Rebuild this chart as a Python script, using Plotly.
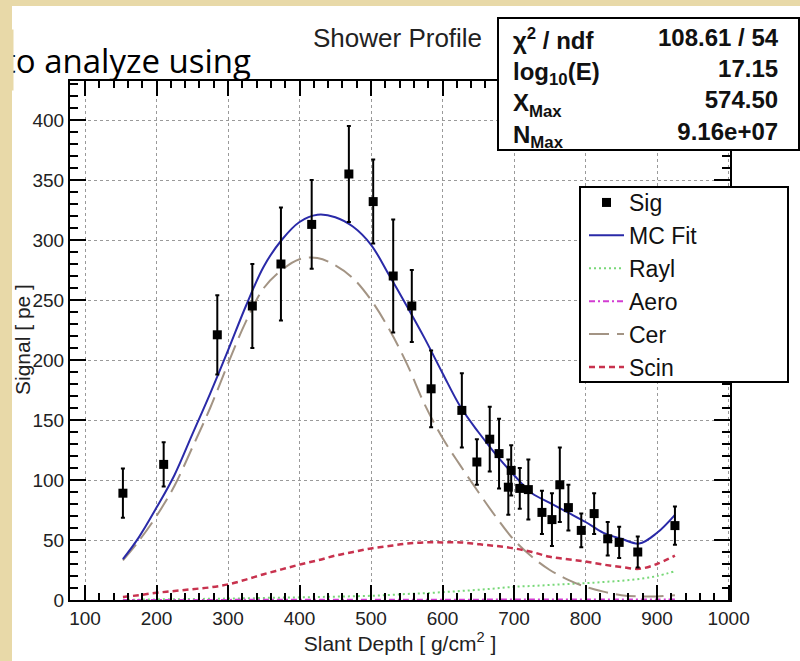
import plotly.graph_objects as go

# ---------------- data ----------------
sig_depth = [153, 210, 285, 334, 374, 417, 469, 503, 531, 557, 584, 627, 648, 666, 679,
             692, 696, 708, 720, 739, 753, 764, 776, 794, 812, 831, 847, 873, 925]
sig_val = [89, 113, 221, 245, 280, 313, 355, 332, 270, 245, 176, 158, 115, 134, 122,
           94, 108, 93, 92, 73, 67, 96, 77, 58, 72, 51, 48, 40, 62]
sig_err = [20.5, 18.5, 33, 35, 47, 37, 40, 35, 47, 30, 32, 31, 19, 27, 29,
           23, 21, 17, 25, 18, 22, 31, 19, 14, 17, 14, 13, 13, 16]

depth = [153, 175, 200, 225, 250, 275, 300, 325, 350, 375, 400, 425, 450, 475, 500, 525,
         550, 575, 600, 625, 650, 675, 700, 725, 750, 775, 800, 825, 850, 875, 900, 925]
mc_fit = [34, 52, 77, 104, 138, 172, 208, 245, 278, 300, 315, 321, 319, 311, 296, 271,
          245, 218, 189, 161, 140, 121, 104, 89, 81, 73, 65, 56, 51, 47, 56, 71]
cer = [33, 49, 70, 95, 127, 160, 197, 232, 260, 275, 284, 285, 279, 268, 250, 226,
       197, 163, 135, 112, 90, 69, 50, 36, 25, 17, 11, 7, 4, 3, 3, 4]
scin = [2.5, 4, 6, 7.5, 9, 10.5, 13, 17, 21.5, 25.5, 29.5, 33, 37, 40, 43, 45,
        47, 48, 48, 48, 46.5, 45, 43, 40, 36, 34, 32, 29.5, 27.5, 26, 30, 37]
rayl = [0.2, 0.3, 0.5, 0.6, 0.8, 1.0, 1.2, 1.4, 1.7, 2.0, 2.2, 2.5, 2.8, 3.1, 3.5, 4.2,
        5, 5.7, 6.5, 7.5, 8.5, 9.7, 11, 11.7, 12.5, 13.3, 14, 15, 16, 17.5, 20, 24]
aero = [0.05, 0.05, 0.05, 0.1, 0.1, 0.1, 0.1, 0.15, 0.15, 0.15, 0.2, 0.2, 0.2, 0.2, 0.25, 0.25,
        0.25, 0.3, 0.3, 0.3, 0.3, 0.35, 0.35, 0.35, 0.4, 0.4, 0.4, 0.4, 0.45, 0.45, 0.5, 0.5]

stat_labels = ["χ<sup>2</sup> / ndf", "log<sub>10</sub>(E)", "X<sub>Max</sub>", "N<sub>Max</sub>"]
stat_values = ["108.61 / 54", "17.15", "574.50", "9.16e+07"]

# ---------------- layout helpers ----------------
W, H = 800, 661
L, R, T, B = 70, 70, 81, 61
PW, PH = W - L - R, H - T - B


def px(x):
    return (x - L) / PW


def py(y):
    return (H - B - y) / PH


ROOT_FONT = "Liberation Sans, Arial, sans-serif"
TAN = "#E8D9A8"

fig = go.Figure()

fig.add_trace(go.Scatter(x=depth, y=rayl, mode="lines", name="Rayl", legendrank=3,
                         line=dict(color="#78d878", width=2, dash="2px,3px", shape="spline")))
fig.add_trace(go.Scatter(x=depth, y=aero, mode="lines", name="Aero", legendrank=4,
                         line=dict(color="#d23cd2", width=2, dash="6px,3px,2px,3px", shape="spline")))
fig.add_trace(go.Scatter(x=depth, y=cer, mode="lines", name="Cer", legendrank=5,
                         line=dict(color="#a39484", width=2, dash="20px,8px", shape="spline")))
fig.add_trace(go.Scatter(x=depth, y=scin, mode="lines", name="Scin", legendrank=6,
                         line=dict(color="#c8324e", width=2.5, dash="6px,4px", shape="spline")))
fig.add_trace(go.Scatter(x=depth, y=mc_fit, mode="lines", name="MC Fit", legendrank=2,
                         line=dict(color="#2a2aa8", width=2, shape="spline")))
fig.add_trace(go.Scatter(x=sig_depth, y=sig_val, mode="markers", name="Sig", legendrank=1,
                         marker=dict(symbol="square", size=9, color="black"),
                         error_y=dict(type="data", array=sig_err, color="black",
                                      thickness=2, width=2)))

axis_common = dict(showline=True, linecolor="black", linewidth=2, mirror="allticks",
                   ticks="inside", tickcolor="black", tickwidth=2,
                   showgrid=True, gridcolor="#9a9a9a", gridwidth=1, griddash="dot",
                   zeroline=False,
                   tickfont=dict(family=ROOT_FONT, size=19, color="#222"))

fig.update_xaxes(range=[79, 1002], tick0=0, dtick=100, ticklen=15,
                 minor=dict(dtick=20, ticks="inside", ticklen=7, tickcolor="black",
                            tickwidth=1.5, showgrid=False),
                 title=dict(text="Slant Depth [ g/cm<sup>2</sup> ]", standoff=6,
                            font=dict(family=ROOT_FONT, size=21, color="#222")),
                 **axis_common)
fig.update_yaxes(range=[0, 432.5], tick0=0, dtick=50, ticklen=16,
                 minor=dict(dtick=10, ticks="inside", ticklen=8, tickcolor="black",
                            tickwidth=1.5, showgrid=False),
                 **axis_common)

shapes = [
    # slide background strips (left and top)
    dict(type="rect", xref="paper", yref="paper", x0=px(0), x1=px(12), y0=py(H), y1=py(0),
         fillcolor=TAN, line=dict(width=0), layer="below"),
    dict(type="rect", xref="paper", yref="paper", x0=px(0), x1=px(W), y0=py(6), y1=py(0),
         fillcolor=TAN, line=dict(width=0), layer="below"),
    # stats box
    dict(type="rect", xref="paper", yref="paper", x0=px(498), x1=px(799), y0=py(150), y1=py(18),
         fillcolor="white", line=dict(color="black", width=2), layer="above"),
    # legend box
    dict(type="rect", xref="paper", yref="paper", x0=px(580), x1=px(788), y0=py(382), y1=py(187),
         fillcolor="white", line=dict(color="black", width=2), layer="above"),
]

annotations = [
    dict(text="to analyze using", x=px(2), y=py(60), xref="paper", yref="paper",
         xanchor="left", yanchor="middle", showarrow=False,
         font=dict(family="Open Sans", size=33, color="black")),
    dict(text=" ", x=px(0), y=py(60), xref="paper", yref="paper", xanchor="left",
         yanchor="middle", showarrow=False, width=12, height=60, bgcolor=TAN, borderpad=0,
         font=dict(size=10)),
    dict(text="Shower Profile", x=px(397), y=py(38), xref="paper", yref="paper",
         xanchor="center", yanchor="middle", showarrow=False,
         font=dict(family=ROOT_FONT, size=26, color="#222")),
    dict(text="<br>".join(stat_labels), x=px(511), y=py(22), xref="paper", yref="paper",
         xanchor="left", yanchor="top", align="left", showarrow=False,
         font=dict(family=ROOT_FONT, size=24, color="#111", weight="bold")),
    dict(text="<br>".join(stat_values), x=px(781), y=py(22), xref="paper", yref="paper",
         xanchor="right", yanchor="top", align="right", showarrow=False,
         font=dict(family=ROOT_FONT, size=24, color="#111", weight="bold")),
    dict(text="Signal [ pe ]", x=px(22), y=py(340), xref="paper", yref="paper",
         xanchor="center", yanchor="middle", textangle=-90, showarrow=False,
         font=dict(family=ROOT_FONT, size=21, color="#222")),
]

fig.update_layout(
    width=W, height=H, margin=dict(l=L, r=R, t=T, b=B, autoexpand=False),
    paper_bgcolor="white", plot_bgcolor="white",
    shapes=shapes, annotations=annotations,
    showlegend=True,
    legend=dict(x=px(584), y=py(181), xanchor="left", yanchor="top",
                bgcolor="rgba(0,0,0,0)", borderwidth=0, itemwidth=35,
                font=dict(family=ROOT_FONT, size=23, color="#111")),
)

fig.write_html("out.html")
